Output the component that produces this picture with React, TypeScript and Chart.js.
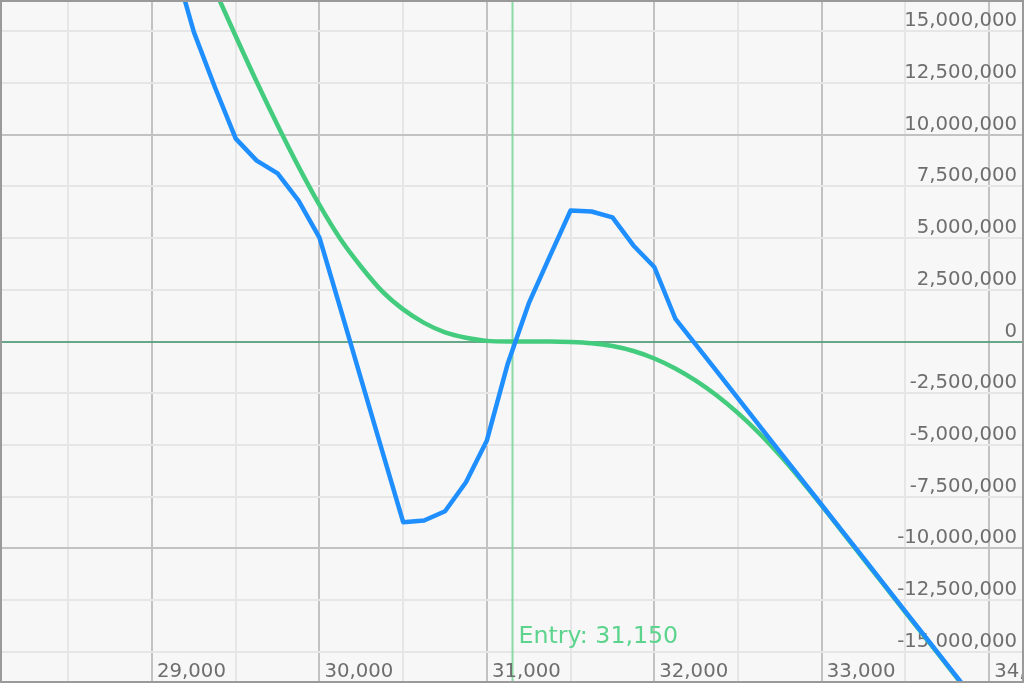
import React, { useEffect, useRef } from "react";
import { Chart, registerables } from "chart.js";

Chart.register(...registerables);

// Underlying price (x) at 125-point steps
const prices = [
  29000, 29125, 29250, 29375, 29500, 29625, 29750, 29875,
  30000, 30125, 30250, 30375, 30500, 30625, 30750, 30875,
  31000, 31125, 31250, 31375, 31500, 31625, 31750, 31875,
  32000, 32125, 32250, 32375, 32500, 32625, 32750, 32875,
  33000, 33125, 33250, 33375, 33500, 33625, 33750, 33875,
  34000, 34125, 34250,
];

// Current P&L (blue), in millions
const pnlNowMillions = [
  22.5, 18.5, 14.95, 12.3, 9.8, 8.74, 8.12, 6.81,
  5.02, 1.6, -1.85, -5.3, -8.73, -8.65, -8.2, -6.8,
  -4.78, -1.06, 1.84, 4.1, 6.33, 6.28, 6.0, 4.64,
  3.6, 1.11, -0.18, -1.46, -2.75, -4.04, -5.33, -6.61,
  -7.9, -9.19, -10.47, -11.76, -13.05, -14.33, -15.62, -16.91,
  -18.2, -19.49, -20.8,
];

// Expiry P&L (green), in millions
const pnlExpiryMillions = [
  23.8, 21.6, 19.3, 17.0, 14.75, 12.55, 10.45, 8.45,
  6.6, 4.95, 3.6, 2.42, 1.55, 0.9, 0.44, 0.18,
  0.03, 0, 0, 0, -0.02, -0.08, -0.22, -0.46,
  -0.82, -1.3, -1.9, -2.62, -3.46, -4.42, -5.5, -6.68,
  -7.93, -9.22, -10.51, -11.8, -13.09, -14.37, -15.66, -16.95,
  -18.24, -19.53, -20.84,
];

// Grid / tick values
const xGridValues = [28500, 29000, 29500, 30000, 30500, 31000, 31500, 32000, 32500, 33000, 33500, 34000];
const xLabelValues = [29000, 30000, 31000, 32000, 33000, 34000];
const yTickValues = [
  -15000000, -12500000, -10000000, -7500000, -5000000, -2500000, 0,
  2500000, 5000000, 7500000, 10000000, 12500000, 15000000,
];

const entryPrice = 31150;
const entryLabel = "Entry: 31,150";

const xMin = 28092;
const xMax = 34208;
const yMin = -16500000;
const yMax = 16500000;

const fmt = (v: number) => v.toLocaleString("en-US");

const FONT = '"DejaVu Sans", Verdana, sans-serif';

const overlayPlugin = {
  id: "overlay",
  beforeDatasetsDraw(chart: any) {
    const { ctx, chartArea, scales } = chart;
    const x = scales.x;
    const y = scales.y;
    ctx.save();

    // zero line
    const y0 = Math.round(y.getPixelForValue(0));
    ctx.strokeStyle = "rgba(86,156,122,0.9)";
    ctx.lineWidth = 2;
    ctx.beginPath();
    ctx.moveTo(chartArea.left, y0);
    ctx.lineTo(chartArea.right, y0);
    ctx.stroke();

    // entry line
    const xe = Math.round(x.getPixelForValue(entryPrice)) + 0.5;
    ctx.strokeStyle = "rgba(120,214,152,0.85)";
    ctx.lineWidth = 2;
    ctx.beginPath();
    ctx.moveTo(xe, chartArea.top);
    ctx.lineTo(xe, chartArea.bottom);
    ctx.stroke();

    // y labels (inside right)
    ctx.font = `19.7px ${FONT}`;
    ctx.fillStyle = "#6e6e6e";
    ctx.textAlign = "right";
    ctx.textBaseline = "alphabetic";
    for (const v of yTickValues) {
      const py = y.getPixelForValue(v);
      ctx.fillText(fmt(v), chartArea.right - 7, py - 5);
    }

    // x labels (inside bottom)
    ctx.textAlign = "left";
    for (const v of xLabelValues) {
      const px = x.getPixelForValue(v);
      ctx.fillText(fmt(v), px + 5, chartArea.bottom - 6);
    }

    // entry label
    ctx.font = `23.7px ${FONT}`;
    ctx.fillStyle = "#5cd48e";
    ctx.fillText(entryLabel, xe + 6, chartArea.bottom - 40);

    ctx.restore();
  },
  afterDraw(chart: any) {
    const { ctx, width, height } = chart;
    ctx.save();
    ctx.strokeStyle = "#9a9a9a";
    ctx.lineWidth = 2;
    ctx.strokeRect(1, 1, width - 2, height - 2);
    ctx.restore();
  },
};

export default function App() {
  const canvasRef = useRef<HTMLCanvasElement | null>(null);

  useEffect(() => {
    if (!canvasRef.current) return;
    const chart = new Chart(canvasRef.current, {
      type: "line",
      data: {
        datasets: [
          {
            label: "Expiry",
            data: prices.map((p, i) => ({ x: p, y: pnlExpiryMillions[i] * 1e6 })),
            borderColor: "#44cc7e",
            borderWidth: 4.5,
            pointRadius: 0,
            cubicInterpolationMode: "monotone",
            borderJoinStyle: "round",
            borderCapStyle: "round",
            order: 2,
          },
          {
            label: "Now",
            data: prices.map((p, i) => ({ x: p, y: pnlNowMillions[i] * 1e6 })),
            borderColor: "#1f8fff",
            borderWidth: 4.5,
            pointRadius: 0,
            tension: 0,
            borderJoinStyle: "round",
            borderCapStyle: "round",
            order: 1,
          },
        ],
      },
      options: {
        animation: false,
        responsive: false,
        maintainAspectRatio: false,
        layout: { padding: 0 },
        plugins: {
          legend: { display: false },
          tooltip: { enabled: false },
        },
        scales: {
          x: {
            type: "linear",
            min: xMin,
            max: xMax,
            afterBuildTicks: (s: any) => {
              s.ticks = xGridValues.map((v) => ({ value: v }));
            },
            ticks: { display: false },
            grid: {
              drawTicks: false,
              lineWidth: 2,
              color: (c: any) => (c.tick && c.tick.value % 1000 === 0 ? "#c2c2c2" : "#e6e6e6"),
            },
            border: { display: false },
          },
          y: {
            type: "linear",
            min: yMin,
            max: yMax,
            afterBuildTicks: (s: any) => {
              s.ticks = yTickValues.map((v) => ({ value: v }));
            },
            ticks: { display: false },
            grid: {
              drawTicks: false,
              lineWidth: 2,
              color: (c: any) => {
                const v = c.tick ? c.tick.value : 1;
                if (v === 0) return "rgba(0,0,0,0)";
                return v % 10000000 === 0 ? "#c2c2c2" : "#e6e6e6";
              },
            },
            border: { display: false },
          },
        },
      },
      plugins: [overlayPlugin],
    });
    return () => chart.destroy();
  }, []);

  return (
    <div
      style={{
        position: "absolute",
        left: 0,
        top: 0,
        width: 1024,
        height: 683,
        background: "#f7f7f7",
      }}
    >
      <canvas ref={canvasRef} width={1024} height={683} style={{ display: "block" }} />
    </div>
  );
}
